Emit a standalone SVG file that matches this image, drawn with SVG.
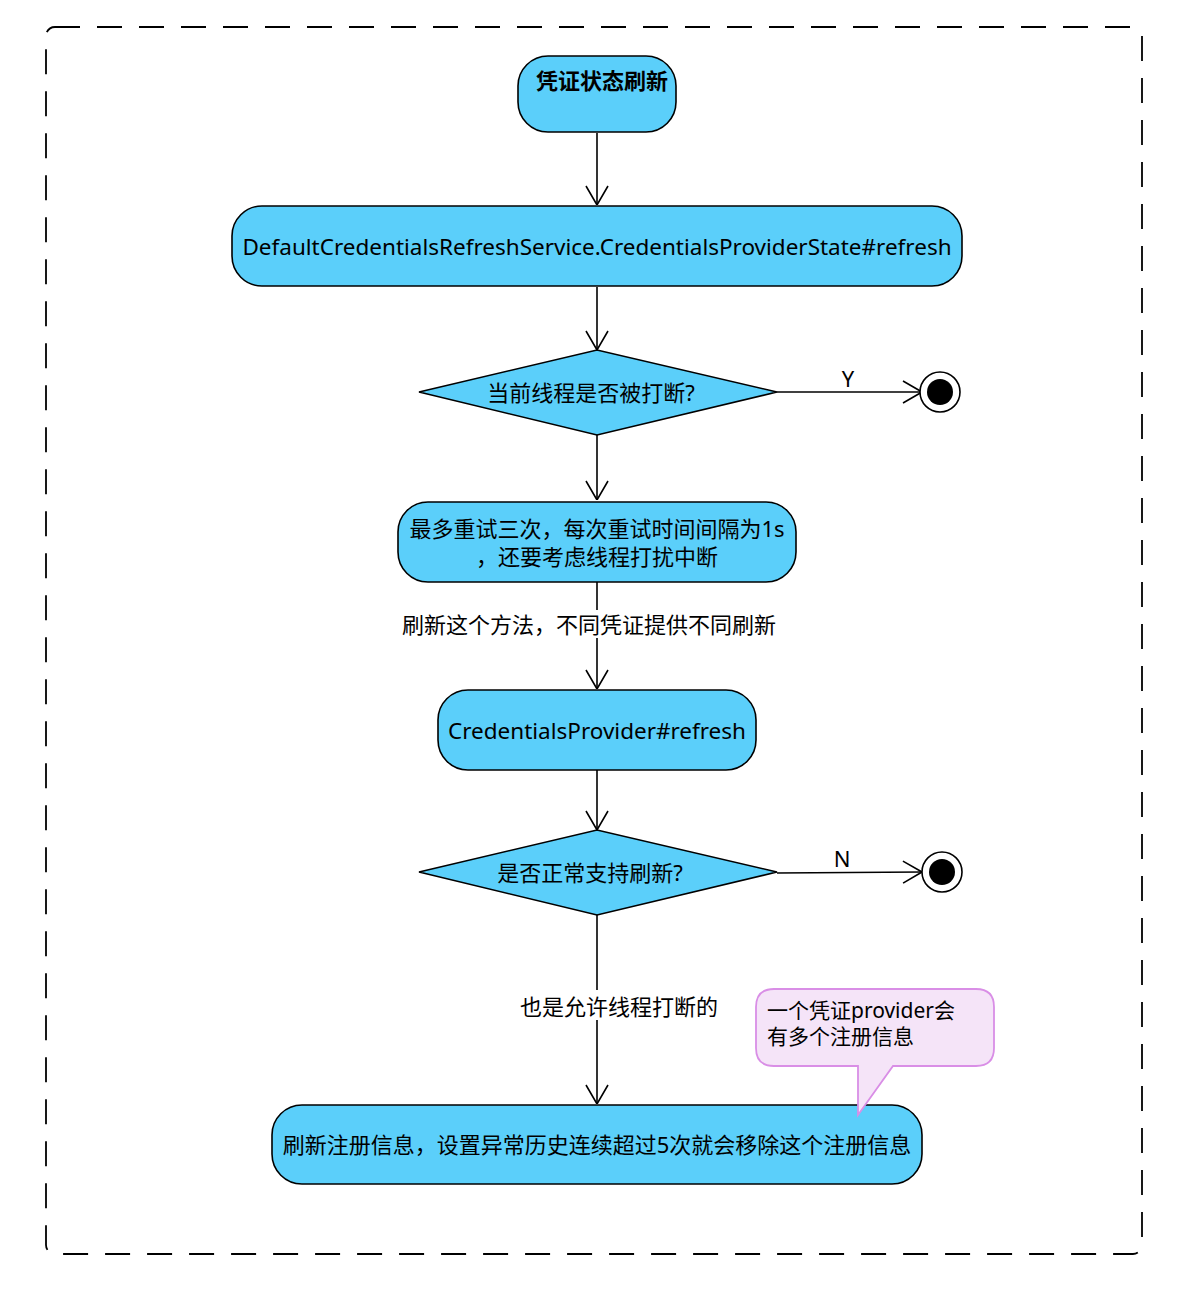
<svg xmlns="http://www.w3.org/2000/svg" width="1188" height="1290" viewBox="0 0 1188 1290">
<defs>
<marker id="arr" viewBox="0 0 20 24" refX="20" refY="12" markerWidth="20" markerHeight="24" markerUnits="userSpaceOnUse" orient="auto">
<path d="M1,1 L20,12 L1,23" fill="none" stroke="#000" stroke-width="1.6"/>
</marker>
</defs>
<style>
.node{fill:#5bcffa;stroke:#000;stroke-width:1.6}
.t{font-family:"Noto Sans","Noto Sans CJK SC",sans-serif;font-size:22px;fill:#000;text-anchor:middle;dominant-baseline:central}
.lat{font-size:22.5px}
.lbl{font-family:"Noto Sans","Noto Sans CJK SC",sans-serif;font-size:22px;fill:#000;text-anchor:middle;dominant-baseline:central}
.conn{stroke:#000;stroke-width:1.6;fill:none}
.endo{fill:#fff;stroke:#000;stroke-width:1.6}
.nt{font-family:"Noto Sans","Noto Sans CJK SC",sans-serif;font-size:21px;fill:#000;text-anchor:start;dominant-baseline:central}
</style>
<rect width="1188" height="1290" fill="#fff"/>
<rect x="46" y="27" width="1096" height="1227" rx="9" fill="none" stroke="#000" stroke-width="1.8" stroke-dasharray="25,17"/>

<g id="connectors">
<line class="conn" x1="597" y1="133" x2="597" y2="205" marker-end="url(#arr)"/>
<line class="conn" x1="597" y1="287" x2="597" y2="350" marker-end="url(#arr)"/>
<line class="conn" x1="777" y1="392" x2="922" y2="392" marker-end="url(#arr)"/>
<text class="lbl" x="848" y="378">Y</text>
<line class="conn" x1="597" y1="435" x2="597" y2="500" marker-end="url(#arr)"/>
<line class="conn" x1="597" y1="582" x2="597" y2="610"/>
<line class="conn" x1="597" y1="638" x2="597" y2="689" marker-end="url(#arr)"/>
<text class="lbl" x="589" y="624">刷新这个方法，不同凭证提供不同刷新</text>
<line class="conn" x1="597" y1="770" x2="597" y2="830" marker-end="url(#arr)"/>
<line class="conn" x1="777" y1="873" x2="922" y2="872" marker-end="url(#arr)"/>
<text class="lbl" x="842" y="858">N</text>
<line class="conn" x1="597" y1="915" x2="597" y2="990"/>
<line class="conn" x1="597" y1="1020" x2="597" y2="1104" marker-end="url(#arr)"/>
<text class="lbl" x="619" y="1006">也是允许线程打断的</text>
</g>

<g id="start">
<rect class="node" x="518" y="56" width="158" height="76" rx="30"/>
<text class="t" x="602" y="80" font-weight="bold">凭证状态刷新</text>
</g>
<g id="stateRefresh">
<rect class="node" x="232" y="206" width="730" height="80" rx="30"/>
<text class="t lat" x="597" y="246">DefaultCredentialsRefreshService.CredentialsProviderState#refresh</text>
</g>
<g id="decision1">
<polygon class="node" points="419,392 597,350 777,392 597,435"/>
<text class="t" x="591" y="392">当前线程是否被打断?</text>
</g>
<g id="end1">
<circle class="endo" cx="940" cy="392" r="20"/>
<circle cx="940" cy="392" r="13" fill="#000"/>
</g>
<g id="retry">
<rect class="node" x="398" y="502" width="398" height="80" rx="30"/>
<text class="t" x="597" y="528">最多重试三次，每次重试时间间隔为1s<tspan x="597" dy="28">，还要考虑线程打扰中断</tspan></text>
</g>
<g id="providerRefresh">
<rect class="node" x="438" y="690" width="318" height="80" rx="30"/>
<text class="t lat" x="597" y="730">CredentialsProvider#refresh</text>
</g>
<g id="decision2">
<polygon class="node" points="419,872 597,830 777,872 597,915"/>
<text class="t" x="590" y="872">是否正常支持刷新?</text>
</g>
<g id="end2">
<circle class="endo" cx="942" cy="872" r="20"/>
<circle cx="942" cy="872" r="13" fill="#000"/>
</g>
<g id="registerRefresh">
<rect class="node" x="272" y="1105" width="650" height="79" rx="30"/>
<text class="t" x="597" y="1144">刷新注册信息，设置异常历史连续超过5次就会移除这个注册信息</text>
</g>
<g id="note">
<path d="M774,989 H976 Q994,989 994,1007 V1048 Q994,1066 976,1066 H893 L858,1115 L858,1066 H774 Q756,1066 756,1048 V1007 Q756,989 774,989 Z" fill="#f5e4f8" stroke="#d98ee6" stroke-width="1.8"/>
<text class="nt" x="767" y="1010">一个凭证provider会<tspan x="767" dy="26">有多个注册信息</tspan></text>
</g>
</svg>
